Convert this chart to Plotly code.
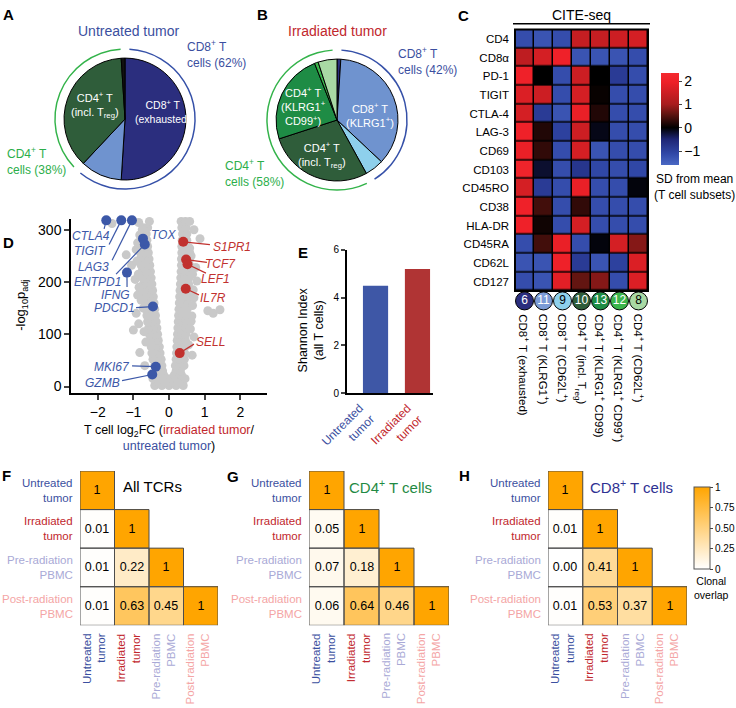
import plotly.graph_objects as go

W, H = 736, 708
FONT = "Arial, Liberation Sans, sans-serif"

BLUE = "#3B4FA0"
RED = "#C1272D"
GREEN = "#2BAE4A"
DKGREEN = "#1F8A43"
NAVY = "#2E3192"
LAVENDER = "#A9A9D6"
PINK = "#F4A5A5"
DOT_BLUE = "#3C58A8"
DOT_RED = "#C1312E"


def fx(px):
    return px / W


def fy(py):
    return 1 - py / H


# ---------------- data ----------------
# A / B: T cell subset composition (%)
pie_a_values = [51, 11, 37, 1]
pie_a_colors = ["#2B2E7E", "#6F93CF", "#2F5D3A", "#111111"]

pie_b_values = [1, 36, 5, 28, 24, 1, 5]
pie_b_colors = ["#2B2E7E", "#6F93CF", "#8ED0EC", "#2F5D3A", "#1E8C45", "#3CB44B", "#A9D9A4"]

cd8_share_a = 62
cd8_share_b = 42

# C: CITE-seq heatmap (SD from mean)
cite_markers = ["CD4", "CD8α", "PD-1", "TIGIT", "CTLA-4", "LAG-3", "CD69", "CD103",
                "CD45RO", "CD38", "HLA-DR", "CD45RA", "CD62L", "CD127"]
cite_z = [
    [-1.2, -1.3, -1.2, 1.4, 1.4, 1.5, 1.6],
    [1.3, 1.6, 2.0, -1.3, -1.3, -1.3, -1.2],
    [2.0, 0.0, -1.2, 1.5, 0.0, -0.9, -1.2],
    [1.7, 1.5, -1.2, 1.6, 0.05, -1.2, -1.2],
    [1.6, -0.9, -1.3, 1.9, 0.2, -1.2, -1.2],
    [2.0, 0.2, -1.0, 1.5, -0.1, -1.2, -1.2],
    [1.9, 0.3, -1.2, 1.6, -1.3, -1.2, -1.2],
    [2.1, -0.2, -1.2, -0.8, -1.1, -1.2, -1.1],
    [1.6, -0.9, -1.2, 1.9, -1.2, -1.2, -0.05],
    [2.0, 0.4, -1.2, 0.3, -1.2, -1.2, -1.2],
    [2.0, 0.1, -1.2, 1.6, -1.2, -1.2, -1.2],
    [-1.2, 0.4, 1.9, -1.2, -0.05, 1.6, 0.8],
    [-1.3, -1.3, 2.0, -0.9, -1.3, -1.0, 1.7],
    [-1.2, -1.3, 1.8, 0.6, 0.8, -1.2, 1.7],
]
cluster_ids = ["6", "11", "9", "10", "13", "12", "8"]
cluster_colors = ["#2B2E7E", "#7B9BD6", "#8ED0EC", "#2F5D3A", "#1E8C45", "#3CB44B", "#A9D9A4"]
cluster_text_colors = ["white", "white", "black", "white", "white", "white", "black"]
cluster_names = ["CD8<sup>+</sup> T (exhausted)", "CD8<sup>+</sup> T (KLRG1<sup>+</sup>)",
                 "CD8<sup>+</sup> T (CD62L<sup>+</sup>)", "CD4<sup>+</sup> T (incl. T<sub>reg</sub>)",
                 "CD4<sup>+</sup> T (KLRG1<sup>+</sup> CD99)",
                 "CD4<sup>+</sup> T (KLRG1<sup>+</sup> CD99<sup>+</sup>)",
                 "CD4<sup>+</sup> T (CD62L<sup>+</sup>)"]

# D: volcano (log2FC, -log10 padj)
gray_fc = [
    -0.4, -0.2, 0.0, 0.2, 0.4,
    -0.3, -0.1, 0.1, 0.3,
    -0.45, -0.25, -0.05, 0.05, 0.25, 0.45,
    -0.35, -0.15, 0.15, 0.35,
    -0.3, -0.18, 0.2, 0.32,
    -0.2, -0.3, -0.4, -0.22, -0.33, -0.45, -0.25, -0.36, -0.48, -0.27, -0.38, -0.5,
    -0.3, -0.4, -0.52, -0.32, -0.43, -0.55, -0.34, -0.45, -0.57, -0.36, -0.47, -0.6,
    -0.38, -0.5, -0.62, -0.4, -0.52, -0.64, -0.42, -0.55, -0.66, -0.44, -0.57, -0.68,
    -0.46, -0.59, -0.7, -0.48, -0.61, -0.72, -0.5, -0.63, -0.74, -0.52, -0.65, -0.76,
    -0.54, -0.66, -0.78, -0.56, -0.68, -0.8, -0.58, -0.7, -0.8, -0.6, -0.72,
    -0.62, -0.74, -0.64, -0.76, -0.6, -0.72,
    -0.85, -1.0, -0.92, -0.88, -0.95, -1.05, -1.2, -0.92, -0.82, -0.68, -1.6, -0.55, -0.85,
    -0.72, -0.78, -0.84, -0.86, -0.9, -0.88, -0.82, -0.75, -0.65, -0.7,
    0.18, 0.3, 0.42, 0.2, 0.31, 0.43, 0.21, 0.32, 0.44, 0.22, 0.33, 0.45,
    0.23, 0.34, 0.46, 0.24, 0.35, 0.47, 0.25, 0.36, 0.48, 0.26, 0.37, 0.49,
    0.27, 0.38, 0.5, 0.28, 0.39, 0.51, 0.29, 0.4, 0.52, 0.3, 0.41, 0.53,
    0.31, 0.42, 0.54, 0.32, 0.43, 0.55, 0.33, 0.44, 0.56, 0.34, 0.45, 0.57,
    0.35, 0.46, 0.58, 0.35, 0.47, 0.58, 0.36, 0.48, 0.58, 0.36, 0.48,
    0.37, 0.5, 0.38, 0.5, 0.36, 0.48, 0.34, 0.46, 0.58,
    0.65, 0.7, 0.62, 0.7, 0.78, 0.75, 0.87, 0.7, 1.09, 1.24, 1.43,
    0.6, 0.64, 0.66, 0.68, 0.66, 0.62, 0.58, 0.55,
]
gray_p = [
    2, 2, 2, 2, 2,
    8, 8, 8, 8,
    15, 15, 15, 15, 15, 15,
    22, 22, 22, 22,
    30, 30, 30, 30,
    40, 40, 40, 52, 52, 52, 64, 64, 64, 76, 76, 76,
    88, 88, 88, 100, 100, 100, 112, 112, 112, 124, 124, 124,
    136, 136, 136, 148, 148, 148, 160, 160, 160, 172, 172, 172,
    184, 184, 184, 196, 196, 196, 208, 208, 208, 220, 220, 220,
    232, 232, 232, 244, 244, 244, 256, 256, 256, 268, 268,
    280, 280, 292, 292, 304, 304,
    120, 108, 140, 175, 205, 232, 252, 262, 65, 40, 312, 316, 314,
    150, 165, 190, 215, 240, 275, 290, 300, 85, 105,
    40, 40, 40, 52, 52, 52, 64, 64, 64, 76, 76, 76,
    88, 88, 88, 100, 100, 100, 112, 112, 112, 124, 124, 124,
    136, 136, 136, 148, 148, 148, 160, 160, 160, 172, 172, 172,
    184, 184, 184, 196, 196, 196, 208, 208, 208, 220, 220, 220,
    232, 232, 232, 244, 244, 244, 256, 256, 256, 268, 268,
    280, 280, 292, 292, 304, 304, 316, 316, 316,
    60, 95, 125, 170, 202, 228, 283, 300, 145, 140, 147,
    110, 135, 155, 185, 215, 250, 265, 80,
]
down_genes = ["CTLA4", "TIGIT", "LAG3", "TOX", "ENTPD1", "IFNG", "PDCD1", "MKI67", "GZMB"]
down_fc = [-1.76, -1.34, -1.04, -0.73, -0.68, -1.18, -0.45, -0.37, -0.47]
down_p = [318, 318, 318, 283, 272, 218, 153, 38, 23]
up_genes = ["S1PR1", "TCF7", "LEF1", "IL7R", "SELL"]
up_fc = [0.4, 0.48, 0.52, 0.47, 0.3]
up_p = [277, 243, 234, 187, 64]

# E: Shannon diversity
shannon_groups = ["Untreated<br>tumor", "Irradiated<br>tumor"]
shannon_values = [4.5, 5.2]

# F-H: clonal overlap
overlap_labels = ["Untreated<br>tumor", "Irradiated<br>tumor", "Pre-radiation<br>PBMC", "Post-radiation<br>PBMC"]
overlap_label_colors = [BLUE, RED, LAVENDER, PINK]
overlap_all = [[1, None, None, None], [0.01, 1, None, None], [0.01, 0.22, 1, None], [0.01, 0.63, 0.45, 1]]
overlap_cd4 = [[1, None, None, None], [0.05, 1, None, None], [0.07, 0.18, 1, None], [0.06, 0.64, 0.46, 1]]
overlap_cd8 = [[1, None, None, None], [0.01, 1, None, None], [0.00, 0.41, 1, None], [0.01, 0.53, 0.37, 1]]

# ---------------- figure ----------------
fig = go.Figure()
annotations = []
shapes = []


def paper_text(text, px, py, size=12, color="black", **kw):
    d = dict(text=text, x=fx(px), y=fy(py), xref="paper", yref="paper", showarrow=False,
             xanchor="center", yanchor="middle", font=dict(size=size, color=color))
    d.update(kw)
    annotations.append(d)


def ring(cd8, cx, cy, r):
    vals = [1, cd8 - 2, 2, 100 - cd8 - 2, 1]
    cols = ["rgba(0,0,0,0)", "#3550A8", "rgba(0,0,0,0)", "#33B34A", "rgba(0,0,0,0)"]
    return go.Pie(values=vals, labels=[f"r{cx}_{i}" for i in range(5)], sort=False,
                  direction="clockwise", hole=1 - 1.5 / r, textinfo="none",
                  marker=dict(colors=cols, line=dict(width=0)), hoverinfo="skip",
                  domain=dict(x=[fx(cx - r), fx(cx + r)], y=[fy(cy + r), fy(cy - r)]),
                  showlegend=False)


def pie(values, colors, cx, cy, r):
    return go.Pie(values=values, labels=[f"p{cx}_{i}" for i in range(len(values))],
                  sort=False, direction="clockwise", textinfo="none",
                  marker=dict(colors=colors, line=dict(color="black", width=1)),
                  domain=dict(x=[fx(cx - r), fx(cx + r)], y=[fy(cy + r), fy(cy - r)]),
                  showlegend=False, hoverinfo="skip")


fig.add_trace(ring(cd8_share_a, 125, 115, 72))
fig.add_trace(pie(pie_a_values, pie_a_colors, 125, 115, 62))
fig.add_trace(ring(cd8_share_b, 337, 116, 72))
fig.add_trace(pie(pie_b_values, pie_b_colors, 337, 116, 62))

paper_text("CD8<sup>+</sup> T<br>(exhausted)", 162, 107, 10.5, "white")
paper_text("CD4<sup>+</sup> T<br>(incl. T<sub>reg</sub>)", 95, 101, 11, "white")
paper_text("CD8<sup>+</sup> T<br>(KLRG1<sup>+</sup>)", 370, 111, 11, "white")
paper_text("CD4<sup>+</sup> T<br>(KLRG1<sup>+</sup><br>CD99<sup>+</sup>)", 303, 102, 11, "white")
paper_text("CD4<sup>+</sup> T<br>(incl. T<sub>reg</sub>)", 322, 152, 11, "white")

paper_text("Untreated tumor", 128, 25, 14, BLUE)
paper_text("Irradiated tumor", 337, 25, 14, RED)
paper_text("CD8<sup>+</sup> T<br>cells (62%)", 185, 49, 12, BLUE, xanchor="left", align="left")
paper_text("CD4<sup>+</sup> T<br>cells (38%)", 5, 158, 12, GREEN, xanchor="left", align="left")
paper_text("CD8<sup>+</sup> T<br>cells (42%)", 396, 56, 12, BLUE, xanchor="left", align="left")
paper_text("CD4<sup>+</sup> T<br>cells (58%)", 223, 170, 12, GREEN, xanchor="left", align="left")

# C heatmap
cite_scale = [[0, "#4A68C4"], [0.12, "#3148A8"], [0.28, "#1E2574"], [0.405, "#000000"],
              [0.55, "#5E1410"], [0.66, "#A81C1E"], [0.9, "#EE2028"], [1, "#F42A30"]]
fig.add_trace(go.Heatmap(
    z=cite_z, x=list(range(7)), y=cite_markers, colorscale=cite_scale, zmin=-1.6, zmax=2.35,
    xgap=1.5, ygap=1.5, xaxis="x", yaxis="y", hoverinfo="skip",
    colorbar=dict(x=fx(661), xanchor="left", y=fy(115), yanchor="middle", len=94 / H,
                  thickness=18, xpad=0, ypad=0, outlinewidth=0,
                  tickvals=[-1, 0, 1, 2], ticktext=["−1", "0", "1", "2"],
                  ticks="outside", ticklen=3, tickfont=dict(size=14))))
shapes.append(dict(type="rect", xref="x domain", yref="y domain", x0=0, x1=1, y0=0, y1=1,
                   fillcolor="black", line=dict(width=0), layer="below"))
shapes.append(dict(type="rect", xref="x domain", yref="y domain", x0=0, x1=1, y0=0, y1=1,
                   line=dict(color="black", width=2)))
shapes.append(dict(type="line", xref="paper", yref="paper", x0=fx(513), x1=fx(650),
                   y0=fy(18), y1=fy(18), line=dict(color="black", width=1.5)))
paper_text("CITE-seq", 581, 9, 14)
paper_text("SD from mean<br>(T cell subsets)", 694, 184, 12)

fig.add_trace(go.Scatter(
    x=list(range(7)), y=[0] * 7, mode="markers+text", text=cluster_ids,
    textfont=dict(color=cluster_text_colors, size=12),
    marker=dict(size=18, color=cluster_colors, line=dict(color="black", width=1)),
    xaxis="x2", yaxis="y2", showlegend=False, hoverinfo="skip", cliponaxis=False))
for i, name in enumerate(cluster_names):
    annotations.append(dict(text=name, x=i, y=fy(311), xref="x2", yref="paper", textangle=90,
                            xanchor="center", yanchor="top", showarrow=False,
                            font=dict(size=11.5)))

# D volcano
fig.add_trace(go.Scatter(x=gray_fc, y=gray_p, mode="markers", xaxis="x3", yaxis="y3",
                         marker=dict(size=9, color="#C9C9C9"), showlegend=False,
                         cliponaxis=False, hoverinfo="skip"))
fig.add_trace(go.Scatter(x=down_fc, y=down_p, mode="markers", xaxis="x3", yaxis="y3",
                         marker=dict(size=10, color=DOT_BLUE), showlegend=False,
                         cliponaxis=False, hoverinfo="skip"))
fig.add_trace(go.Scatter(x=up_fc, y=up_p, mode="markers", xaxis="x3", yaxis="y3",
                         marker=dict(size=10, color=DOT_RED), showlegend=False,
                         cliponaxis=False, hoverinfo="skip"))


def vx(px):
    return (px - 169) / 35.7


def vy(py):
    return (387 - py) / 0.53


# label centre and leader-line start, in pixels
down_label_px = [(91, 234, 104, 227), (90, 249, 109, 243), (93, 265, 112, 259),
                 (163, 233, None, None), (97, 281, 116, 273), (115, 294, 127, 286),
                 (114, 307, 136, 307), (112, 367, 132, 366), (102, 384, 122, 381)]
up_label_px = [(232, 245, 210, 243), (220, 262, 207, 261), (215, 278, 206, 272),
               (213, 297, 199, 294), (210, 342, 194, 344)]
for genes, fcs, ps, pos, col in [(down_genes, down_fc, down_p, down_label_px, DOT_BLUE),
                                 (up_genes, up_fc, up_p, up_label_px, DOT_RED)]:
    for g, fcv, pv, (tx, ty, sx, sy) in zip(genes, fcs, ps, pos):
        paper_text(f"<i>{g}</i>", tx, ty, 12, col)
        if sx is not None:
            shapes.append(dict(type="line", xref="x3", yref="y3", x0=vx(sx), y0=vy(sy),
                               x1=fcv, y1=pv, line=dict(color=col, width=1.2)))
paper_text("-log<sub>10</sub>p<sub>adj</sub>", 22, 305, 13, textangle=-90)
paper_text(f"T cell log<sub>2</sub>FC (<span style='color:{RED}'>irradiated tumor</span>/<br>"
           f"<span style='color:{BLUE}'>untreated tumor</span>)", 169, 439, 12.5)

# E bar
fig.add_trace(go.Bar(x=[0, 1], y=shannon_values, width=0.6, xaxis="x4", yaxis="y4",
                     marker=dict(color=["#3E57A6", "#B03434"], line=dict(width=0)),
                     showlegend=False, hoverinfo="skip"))
paper_text("Shannon Index<br>(all T cells)", 311, 330, 12.5, textangle=-90)
for lab, col, xr in zip(shannon_groups, [BLUE, RED], [381, 428]):
    paper_text(lab, xr, 399, 12, col, textangle=-45, xanchor="right", yanchor="top",
               align="right")

# F-H overlap heatmaps
panels = [(overlap_all, 80, "All TCRs", "black", 152, "5"),
          (overlap_cd4, 309, "CD4<sup>+</sup> T cells", DKGREEN, 390, "6"),
          (overlap_cd8, 548, "CD8<sup>+</sup> T cells", NAVY, 631, "7")]
for mat, x0, title, tcol, tx, ax_id in panels:
    text = [["" if v is None else ("1" if v == 1 else f"{v:.2f}") for v in row] for row in mat]
    fig.add_trace(go.Heatmap(z=mat, x=[0, 1, 2, 3], y=[0, 1, 2, 3], text=text,
                             texttemplate="%{text}", textfont=dict(size=12.5, color="black"),
                             coloraxis="coloraxis", xaxis="x" + ax_id, yaxis="y" + ax_id,
                             hoverinfo="skip"))
    for i in range(4):
        for j in range(i + 1):
            shapes.append(dict(type="rect", xref="x" + ax_id, yref="y" + ax_id,
                               x0=j - 0.5, x1=j + 0.5, y0=i - 0.5, y1=i + 0.5,
                               line=dict(color="#4D4D4D", width=1)))
        annotations.append(dict(text=overlap_labels[i], x=fx(x0 - 5), y=i, xref="paper",
                                yref="y" + ax_id, xanchor="right", yanchor="middle",
                                align="right", showarrow=False,
                                font=dict(size=11.5, color=overlap_label_colors[i])))
        annotations.append(dict(text=overlap_labels[i], x=i, y=fy(636), xref="x" + ax_id,
                                yref="paper", textangle=-90, xanchor="center", yanchor="top",
                                align="right", xshift=-3, showarrow=False,
                                font=dict(size=11.5, color=overlap_label_colors[i])))
    paper_text(title, tx, 489, 15, tcol)
paper_text("Clonal<br>overlap", 711, 592, 10.5)

for letter, lx, ly in [("A", 8, 9), ("B", 262, 9), ("C", 463, 10), ("D", 8, 241),
                       ("E", 303, 251), ("F", 6, 478), ("G", 233, 479), ("H", 465, 478)]:
    paper_text(f"<b>{letter}</b>", lx, ly, 15)

hidden = dict(visible=False)
fig.update_layout(
    width=W, height=H, margin=dict(l=0, r=0, t=0, b=0),
    paper_bgcolor="white", plot_bgcolor="white",
    font=dict(family=FONT, size=12, color="black"),
    showlegend=False,
    xaxis=dict(domain=[fx(515), fx(648)], range=[-0.5, 6.5], visible=False, anchor="y"),
    yaxis=dict(domain=[fy(290), fy(24)], categoryorder="array", categoryarray=cite_markers,
               autorange="reversed", ticks="", showline=False, showgrid=False,
               ticklabelstandoff=5, tickfont=dict(size=11.5), anchor="x"),
    xaxis2=dict(domain=[fx(515), fx(648)], range=[-0.5, 6.5], visible=False, anchor="y2"),
    yaxis2=dict(domain=[fy(311), fy(289)], range=[-1, 1], visible=False, anchor="x2"),
    xaxis3=dict(domain=[fx(71), fx(267)], range=[-2.75, 2.75], tickvals=[-2, -1, 0, 1, 2],
                ticktext=["−2", "−1", "0", "1", "2"], ticks="outside", ticklen=5, tickwidth=1.5,
                showline=True, linecolor="black", linewidth=1.5, showgrid=False, zeroline=False,
                tickfont=dict(size=14), anchor="y3"),
    yaxis3=dict(domain=[fy(394), fy(217)], range=[-13, 320], tickvals=[0, 100, 200, 300],
                ticks="outside", ticklen=5, tickwidth=1.5, showline=True, linecolor="black",
                linewidth=1.5, showgrid=False, zeroline=False, tickfont=dict(size=14),
                anchor="x3"),
    xaxis4=dict(domain=[fx(347), fx(433)], range=[-0.68, 1.37], showticklabels=False, ticks="",
                showline=True, linecolor="black", linewidth=2, showgrid=False, zeroline=False,
                anchor="y4"),
    yaxis4=dict(domain=[fy(394), fy(248)], range=[0, 6], tickvals=[0, 2, 4, 6], ticks="outside",
                ticklen=4, tickwidth=1.5, showline=True, linecolor="black", linewidth=2,
                showgrid=False, zeroline=False, tickfont=dict(size=10), anchor="x4"),
    xaxis5=dict(domain=[fx(80), fx(218)], range=[-0.5, 3.5], anchor="y5", **hidden),
    yaxis5=dict(domain=[fy(630), fy(473)], range=[3.5, -0.5], anchor="x5", **hidden),
    xaxis6=dict(domain=[fx(309), fx(449)], range=[-0.5, 3.5], anchor="y6", **hidden),
    yaxis6=dict(domain=[fy(630), fy(473)], range=[3.5, -0.5], anchor="x6", **hidden),
    xaxis7=dict(domain=[fx(548), fx(687)], range=[-0.5, 3.5], anchor="y7", **hidden),
    yaxis7=dict(domain=[fy(630), fy(473)], range=[3.5, -0.5], anchor="x7", **hidden),
    coloraxis=dict(colorscale=[[0, "#FFFFFF"], [1, "#FFA500"]], cmin=0, cmax=1,
                   colorbar=dict(x=fx(694), xanchor="left", y=fy(531), yanchor="middle",
                                 len=83 / H, thickness=16, xpad=0, ypad=0,
                                 outlinewidth=1, outlinecolor="#555555",
                                 tickvals=[0, 0.25, 0.5, 0.75, 1],
                                 ticktext=["0", "0.25", "0.50", "0.75", "1"],
                                 ticks="outside", ticklen=3, tickfont=dict(size=10))),
    annotations=annotations,
    shapes=shapes,
)

# the page body has a default 8px margin; remove it so the figure sits at the window origin
fig.write_html("out.html", config={"displayModeBar": False},
               post_script="document.body.style.margin = '0';")
